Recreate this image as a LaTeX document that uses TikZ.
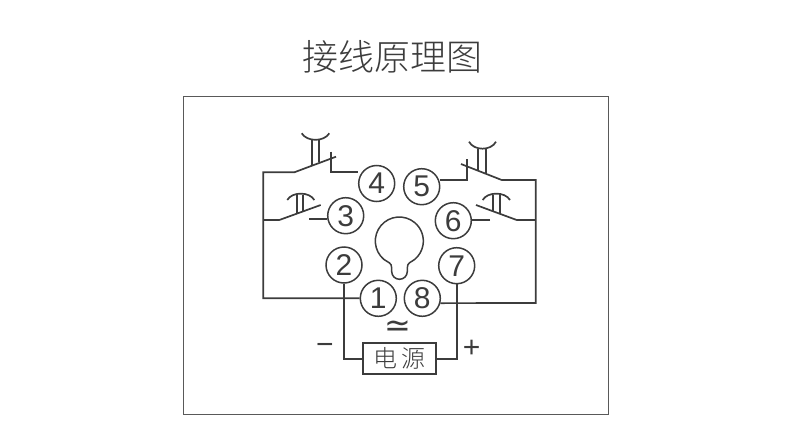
\documentclass[tikz,border=0pt]{standalone}
\usepackage{fontspec}
\setmainfont{Liberation Sans}
\newfontfamily\cjk{Noto Sans CJK SC Light}
\newfontfamily\symb{DejaVu Sans}
\definecolor{wirecol}{HTML}{3C3C3C}
\tikzset{
  wire/.style={draw=wirecol,line width=1.7pt},
  term/.style={circle,draw=wirecol,line width=1.5pt,minimum size=36pt,inner sep=0pt,text=wirecol,font=\fontsize{30}{30}\selectfont},
  sign/.style={text=wirecol,font=\fontsize{30}{30}\selectfont,inner sep=0pt},
}
\begin{document}
\begin{tikzpicture}[x=1pt,y=-1pt]
\useasboundingbox (0,0) rectangle (790,442);
\node [text=wirecol,font=\cjk\fontsize{36}{36}\selectfont,inner sep=0pt] (title) at (392,57) {接线原理图};
\draw [draw=wirecol!85,line width=0.9pt] (183,96) rectangle (608,414);
% terminals
\node [term] (n4) at (376.7,183.5) {4};
\node [term] (n5) at (421.7,186.7) {5};
\node [term] (n3) at (345.7,215.7) {3};
\node [term] (n6) at (453.3,220.7) {6};
\node [term] (n2) at (344,265) {2};
\node [term] (n7) at (456.7,265.7) {7};
\node [term] (n1) at (378.3,298.3) {1};
\node [term] (n8) at (422.3,298.3) {8};
\node [draw=wirecol,line width=1.7pt,minimum width=72.5pt,minimum height=31pt,inner sep=0pt,text=wirecol,font=\cjk\fontsize{24}{24}\selectfont] (psu) at (399.5,358.8) {电\hspace{5pt}源};
\node [sign,font=\symb\fontsize{32}{32}\selectfont] (ac) at (398,329) {≃};
\node [sign] (minus) at (325,349) {−};
\node [sign] (plus) at (471.7,349) {+};
% bulb
\draw [wire,line width=1.5pt] (383.9,259.4) arc (130:410:24) .. controls (410.6,262.5) and (407.3,262.5) .. (407.3,268) -- (407.3,271.5) arc (0:180:7.8) -- (391.7,268) .. controls (391.7,262.5) and (388,262.5) .. cycle;
% left side
\coordinate (railTL) at (263.3,172.3);
\coordinate (railML) at (263.3,220);
\coordinate (railBL) at (263.3,298.3);
\coordinate (bladeA) at (294.3,172.3);
\coordinate (postA) at (331,172.3);
\coordinate (bladeB) at (279.3,220);
\coordinate (stubB) at (309.3,219.3);
\draw [wire] (n1) -- (railBL) -- (railTL) -- (bladeA) -- (336,156.7);
\draw [wire] (331,151.7) -- (postA) -- (postA -| n4.west);
\draw [wire] (railML) -- (bladeB) -- (320.7,205);
\draw [wire] (stubB) -- (stubB -| n3.west);
\draw [wire] (312.3,140) -- (312.3,164.5);
\draw [wire] (319.3,140) -- (319.3,161.5);
\draw [wire] (301.7,133.3) .. controls (307,142) and (324,142) .. (329.3,133.3);
\draw [wire] (296.7,195) -- (296.7,214);
\draw [wire] (303.3,195) -- (303.3,211.5);
\draw [wire] (287.3,200) .. controls (292,191.5) and (309.5,191.5) .. (314.3,200);
% right side
\coordinate (railTR) at (535.7,180);
\coordinate (railMR) at (535.7,220);
\coordinate (railBR) at (535.7,303);
\coordinate (bladeC) at (501.7,180);
\coordinate (postC) at (467.3,180);
\coordinate (bladeD) at (516.7,220);
\coordinate (stubD) at (490,220);
\draw [wire] (n8.-15) -- (railBR) -- (railTR) -- (bladeC) -- (461,164);
\draw [wire] (467.3,159.3) -- (postC) -- (postC -| n5.east);
\draw [wire] (railMR) -- (bladeD) -- (476,205);
\draw [wire] (stubD) -- (stubD -| n6.east);
\draw [wire] (478.3,149.3) -- (478.3,169.5);
\draw [wire] (486,149.3) -- (486,173);
\draw [wire] (469,141.7) .. controls (474,151) and (491,151) .. (496,141.7);
\draw [wire] (492.7,195) -- (492.7,211);
\draw [wire] (500,195) -- (500,214);
\draw [wire] (482.7,200) .. controls (487.5,191.5) and (505,191.5) .. (510,200);
% supply
\coordinate (feedL) at (n2 |- psu);
\coordinate (feedR) at (n7 |- psu);
\draw [wire] (n2) -- (feedL) -- (psu);
\draw [wire] (n7) -- (feedR) -- (psu);
\end{tikzpicture}
\end{document}
